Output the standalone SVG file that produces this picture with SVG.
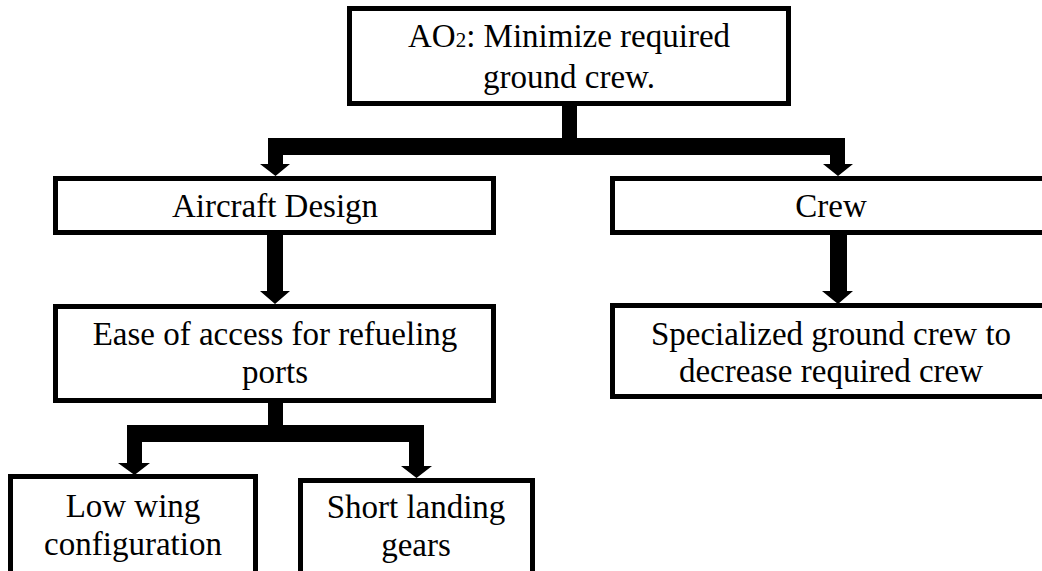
<svg xmlns="http://www.w3.org/2000/svg" width="1042" height="571" viewBox="0 0 1042 571">
<style>
.box{fill:#fff;stroke:#000;stroke-width:5}
.t{font-family:'Liberation Serif','DejaVu Serif',serif;font-size:33px;fill:#000;text-anchor:middle}
.c{fill:#000;stroke:none}
</style>
<rect width="1042" height="571" fill="#fff"/>
<g id="connectors">
<path class="c" d="M562,104 H577 V138 H845 V164 H853 L838,176 L823,164 H830 V155 H283 V164 H290 L275.5,176 L260,164 H268 V138 H562 Z"/>
<path class="c" d="M267,233 H283 V291 H290 L275,304 L260,291 H267 Z"/>
<path class="c" d="M830,233 H847 V291 H853 L838,304 L822,291 H830 Z"/>
<path class="c" d="M268,401 H283 V425 H424 V466 H432 L416.5,478 L401,466 H409 V442 H142 V463 H150 L134.5,475 L118,463 H127 V425 H268 Z"/>
</g>
<g id="n_top">
<rect class="box" x="349.5" y="8.5" width="439" height="95"/>
<text class="t" x="569" y="47">AO<tspan font-size="21">2</tspan>: Minimize required</text>
<text class="t" x="569" y="88">ground crew.</text>
</g>
<g id="n_aircraft">
<rect class="box" x="55.5" y="178.5" width="438" height="54"/>
<text class="t" x="275" y="217">Aircraft Design</text>
</g>
<g id="n_crew">
<rect class="box" x="612.5" y="178.5" width="450" height="54"/>
<text class="t" x="831" y="217">Crew</text>
</g>
<g id="n_ease">
<rect class="box" x="55.5" y="306.5" width="438" height="94"/>
<text class="t" x="275" y="345">Ease of access for refueling</text>
<text class="t" x="275" y="383">ports</text>
</g>
<g id="n_specialized">
<rect class="box" x="612.5" y="305.5" width="450" height="91"/>
<text class="t" x="831" y="345">Specialized ground crew to</text>
<text class="t" x="831" y="382">decrease required crew</text>
</g>
<g id="n_lowwing">
<rect class="box" x="10.5" y="476.5" width="245" height="120"/>
<text class="t" x="133" y="517">Low wing</text>
<text class="t" x="133" y="555">configuration</text>
</g>
<g id="n_short">
<rect class="box" x="300.5" y="480.5" width="232" height="120"/>
<text class="t" x="416" y="518">Short landing</text>
<text class="t" x="416" y="556">gears</text>
</g>
</svg>
